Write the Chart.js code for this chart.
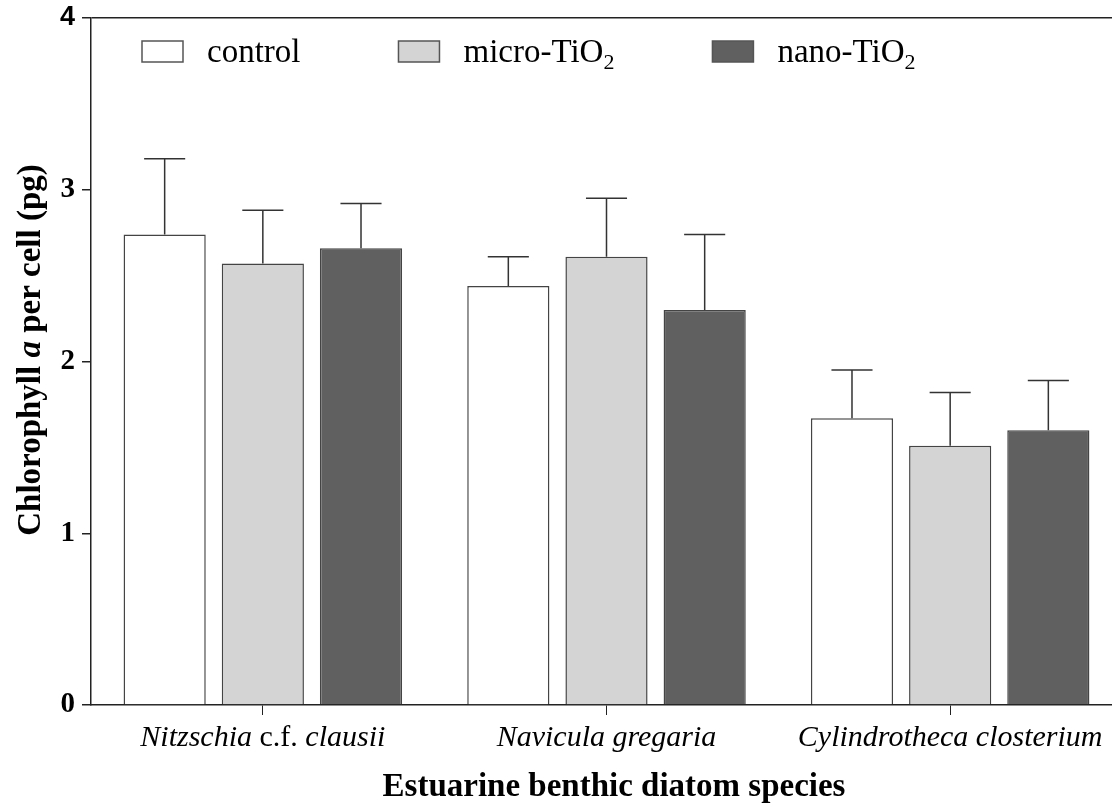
<!DOCTYPE html>
<html>
<head>
<meta charset="utf-8">
<title>Chlorophyll a per cell</title>
<script src="https://cdn.jsdelivr.net/npm/chart.js@4.4.1/dist/chart.umd.min.js"></script>
<style>
  html, body { margin: 0; padding: 0; background: #fff; overflow: hidden; }
  #wrap { width: 1122px; height: 805px; }
</style>
</head>
<body>
<div id="wrap"><canvas id="chart" width="1122" height="805"></canvas></div>
<script>
// ── Data ──────────────────────────────────────────────
const species     = ["Nitzschia c.f. clausii", "Navicula gregaria", "Cylindrotheca closterium"];
const seriesNames = ["control", "micro-TiO2", "nano-TiO2"];

const controlMean = [2.74, 2.44, 1.67];
const controlSD   = [0.44, 0.17, 0.28];
const microMean   = [2.57, 2.61, 1.51];
const microSD     = [0.31, 0.34, 0.31];
const nanoMean    = [2.66, 2.30, 1.60];
const nanoSD      = [0.26, 0.44, 0.29];

const yTicks = [0, 1, 2, 3, 4];

const SERIF = "'Liberation Serif', 'Times New Roman', serif";
const INK   = "#222";
const fills = ["#ffffff", "#d4d4d4", "#606060"];

// ── Upward error bars (mean + SD) ─────────────────────
const errorBars = {
  id: "errorBars",
  afterDatasetsDraw(chart) {
    const { ctx, scales: { y } } = chart;
    ctx.save();
    ctx.strokeStyle = "#333";
    ctx.lineWidth = 1.5;
    chart.data.datasets.forEach((ds, di) => {
      chart.getDatasetMeta(di).data.forEach((bar, i) => {
        const top  = y.getPixelForValue(ds.data[i] + ds.sd[i]);
        const half = bar.width / 4;
        ctx.beginPath();
        ctx.moveTo(bar.x, bar.y);
        ctx.lineTo(bar.x, top);
        ctx.moveTo(bar.x - half, top);
        ctx.lineTo(bar.x + half, top);
        ctx.stroke();
      });
    });
    ctx.restore();
  }
};

// ── Legend row with subscripted "2" ───────────────────
const legendRow = {
  id: "legendRow",
  afterDraw(chart) {
    const { ctx } = chart;
    const boxY = 41, boxW = 41, boxH = 21, baseline = 62;
    let x = 142;
    ctx.save();
    chart.data.datasets.forEach((ds) => {
      ctx.fillStyle = ds.backgroundColor;
      ctx.fillRect(x, boxY, boxW, boxH);
      ctx.strokeStyle = "#555";
      ctx.lineWidth = 1.5;
      ctx.strokeRect(x, boxY, boxW, boxH);

      const m = ds.label.match(/^(.*?)(\d)$/);
      const main = m ? m[1] : ds.label;
      let tx = x + 65;
      ctx.fillStyle = "#000";
      ctx.textBaseline = "alphabetic";
      ctx.textAlign = "left";
      ctx.font = `33px ${SERIF}`;
      ctx.fillText(main, tx, baseline);
      tx += ctx.measureText(main).width;
      if (m) {
        ctx.font = `22px ${SERIF}`;
        ctx.fillText(m[2], tx, baseline + 7);
        tx += ctx.measureText(m[2]).width;
      }
      x = tx + 98;
    });
    ctx.restore();
  }
};

// ── Species names (italic, "c.f." upright) and axis titles ─
function drawParts(ctx, parts, cx, cy) {
  const widths = parts.map(p => { ctx.font = p.font; return ctx.measureText(p.text).width; });
  let x = cx - widths.reduce((a, b) => a + b, 0) / 2;
  parts.forEach((p, i) => {
    ctx.font = p.font;
    ctx.fillText(p.text, x, cy);
    x += widths[i];
  });
}

const axisText = {
  id: "axisText",
  afterDraw(chart) {
    const { ctx, scales: { x } } = chart;
    ctx.save();
    ctx.fillStyle = "#000";
    ctx.textAlign = "left";
    ctx.textBaseline = "alphabetic";

    species.forEach((name, i) => {
      const words = name.split(" ");
      const parts = [];
      words.forEach((w, k) => {
        const upright = w === "c.f.";
        parts.push({ text: w, font: `${upright ? "" : "italic "}30px ${SERIF}` });
        if (k < words.length - 1) parts.push({ text: " ", font: `30px ${SERIF}` });
      });
      drawParts(ctx, parts, x.getPixelForValue(i), 746);
    });

    drawParts(ctx, [{ text: "Estuarine benthic diatom species", font: `bold 33px ${SERIF}` }], 614, 796);

    ctx.translate(40, 350);
    ctx.rotate(-Math.PI / 2);
    drawParts(ctx, [
      { text: "Chlorophyll ", font: `bold 33px ${SERIF}` },
      { text: "a",            font: `italic bold 33px ${SERIF}` },
      { text: " per cell (pg)", font: `bold 33px ${SERIF}` }
    ], 0, 0);
    ctx.restore();
  }
};

// ── Chart ─────────────────────────────────────────────
const seriesMeans = [controlMean, microMean, nanoMean];
const seriesSD    = [controlSD, microSD, nanoSD];

new Chart(document.getElementById("chart"), {
  type: "bar",
  data: {
    labels: species,
    datasets: seriesNames.map((name, i) => ({
      label: name,
      data: seriesMeans[i],
      sd: seriesSD[i],
      backgroundColor: fills[i],
      borderColor: "#444",
      borderWidth: 1.5,
      categoryPercentage: 0.857,
      barPercentage: 0.837,
    })),
  },
  options: {
    responsive: false,
    animation: false,
    layout: { padding: { top: 18, right: 0, bottom: 0, left: 0 } },
    plugins: {
      legend: { display: false },
      tooltip: { enabled: false },
    },
    scales: {
      x: {
        afterFit: (scale) => { scale.height = 100; },
        border: { display: true, color: INK, width: 1.5 },
        grid: { display: true, drawOnChartArea: false, offset: false, tickLength: 10, color: INK, tickColor: INK },
        ticks: { display: false },
      },
      y: {
        min: yTicks[0],
        max: yTicks[yTicks.length - 1],
        afterFit: (scale) => {
          scale.width = 91;
          scale.paddingTop = 0;
          scale.paddingBottom = 0;
        },
        afterBuildTicks: (scale) => { scale.ticks = yTicks.map(v => ({ value: v })); },
        border: { display: true, color: INK, width: 1.5 },
        grid: {
          drawOnChartArea: true,
          tickLength: 9,
          lineWidth: 1.5,
          color: (c) => (c.tick && c.tick.value === yTicks[yTicks.length - 1] ? INK : "rgba(0,0,0,0)"),
          tickColor: INK,
        },
        ticks: {
          padding: 7,
          color: "#000",
          font: (c) => (c.tick && c.tick.value === yTicks[yTicks.length - 1]
            ? { family: "'Liberation Sans', Arial, sans-serif", size: 27, weight: "bold" }
            : { family: SERIF, size: 29, weight: "bold" }),
        },
      },
    },
  },
  plugins: [errorBars, legendRow, axisText],
});
</script>
</body>
</html>
